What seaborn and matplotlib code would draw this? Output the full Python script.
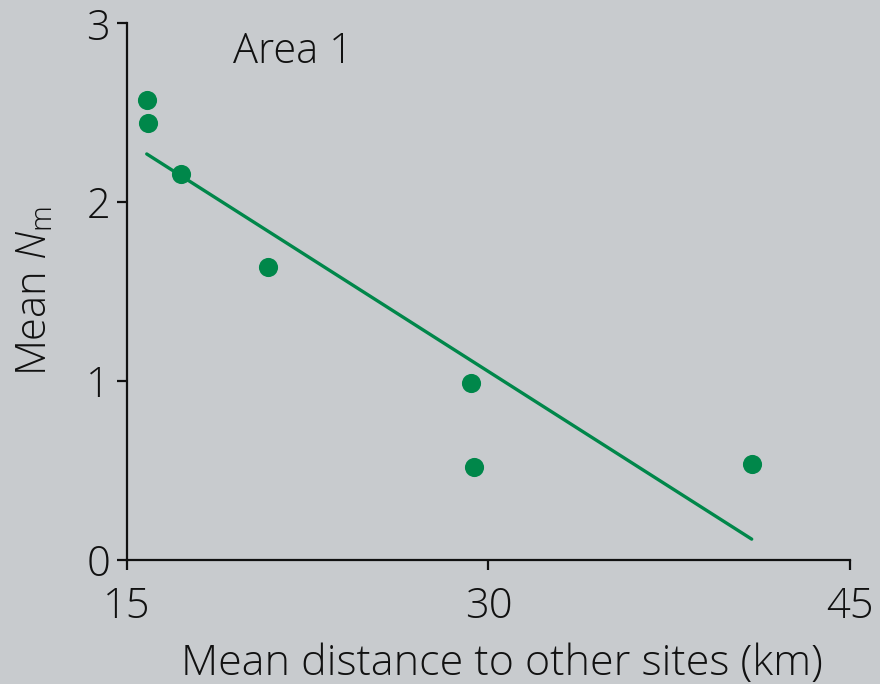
import numpy as np
import pandas as pd
import seaborn as sns
import matplotlib.pyplot as plt

# values
distance_km = [15.83, 15.87, 17.24, 20.86, 29.29, 29.42, 40.92]
mean_nm = [2.57, 2.44, 2.16, 1.64, 0.99, 0.52, 0.54]
x_ticks = [15, 30, 45]
y_ticks = [0, 1, 2, 3]

bg = '#c8cbce'
green = '#00874a'

sns.set_style('ticks')
plt.rcParams['font.family'] = ['Open Sans', 'DejaVu Sans']
plt.rcParams['font.weight'] = 'light'
plt.rcParams['axes.labelweight'] = 'light'
plt.rcParams['mathtext.fontset'] = 'custom'
plt.rcParams['mathtext.rm'] = 'Open Sans:light'
plt.rcParams['mathtext.it'] = 'Open Sans:italic:light'

df = pd.DataFrame({'distance': distance_km, 'nm': mean_nm})

fig = plt.figure(figsize=(8.8, 6.84), dpi=100, facecolor=bg)
ax = fig.add_axes([0.144, 0.181, 0.822, 0.785])
ax.set_facecolor(bg)

sns.regplot(data=df, x='distance', y='nm', ci=None, truncate=True, ax=ax,
            color=green,
            scatter_kws={'s': 190, 'linewidths': 0, 'alpha': 1, 'zorder': 3},
            line_kws={'linewidth': 2.4})

ax.set_xlim(15, 45)
ax.set_ylim(0, 3)
ax.set_xticks(x_ticks)
ax.set_yticks(y_ticks)
ax.tick_params(labelsize=30, width=1.6, length=7, color='#111111', labelcolor='#111111')
ax.tick_params(axis='x', pad=11)
ax.tick_params(axis='y', pad=5)
for side in ['left', 'bottom']:
    ax.spines[side].set_linewidth(1.6)
    ax.spines[side].set_color('#111111')
sns.despine(ax=ax)

ax.set_xlabel('Mean distance to other sites (km)', fontsize=31, color='#111111', labelpad=11)
ax.xaxis.label.set_x(0.519)
ax.set_ylabel(r'Mean $\mathit{N}_\mathrm{m}$', fontsize=30, color='#111111', labelpad=22)
ax.text(19.4, 2.84, 'Area 1', fontsize=30, color='#111111', va='center')

fig.savefig('out.png', dpi=100, facecolor=bg)
